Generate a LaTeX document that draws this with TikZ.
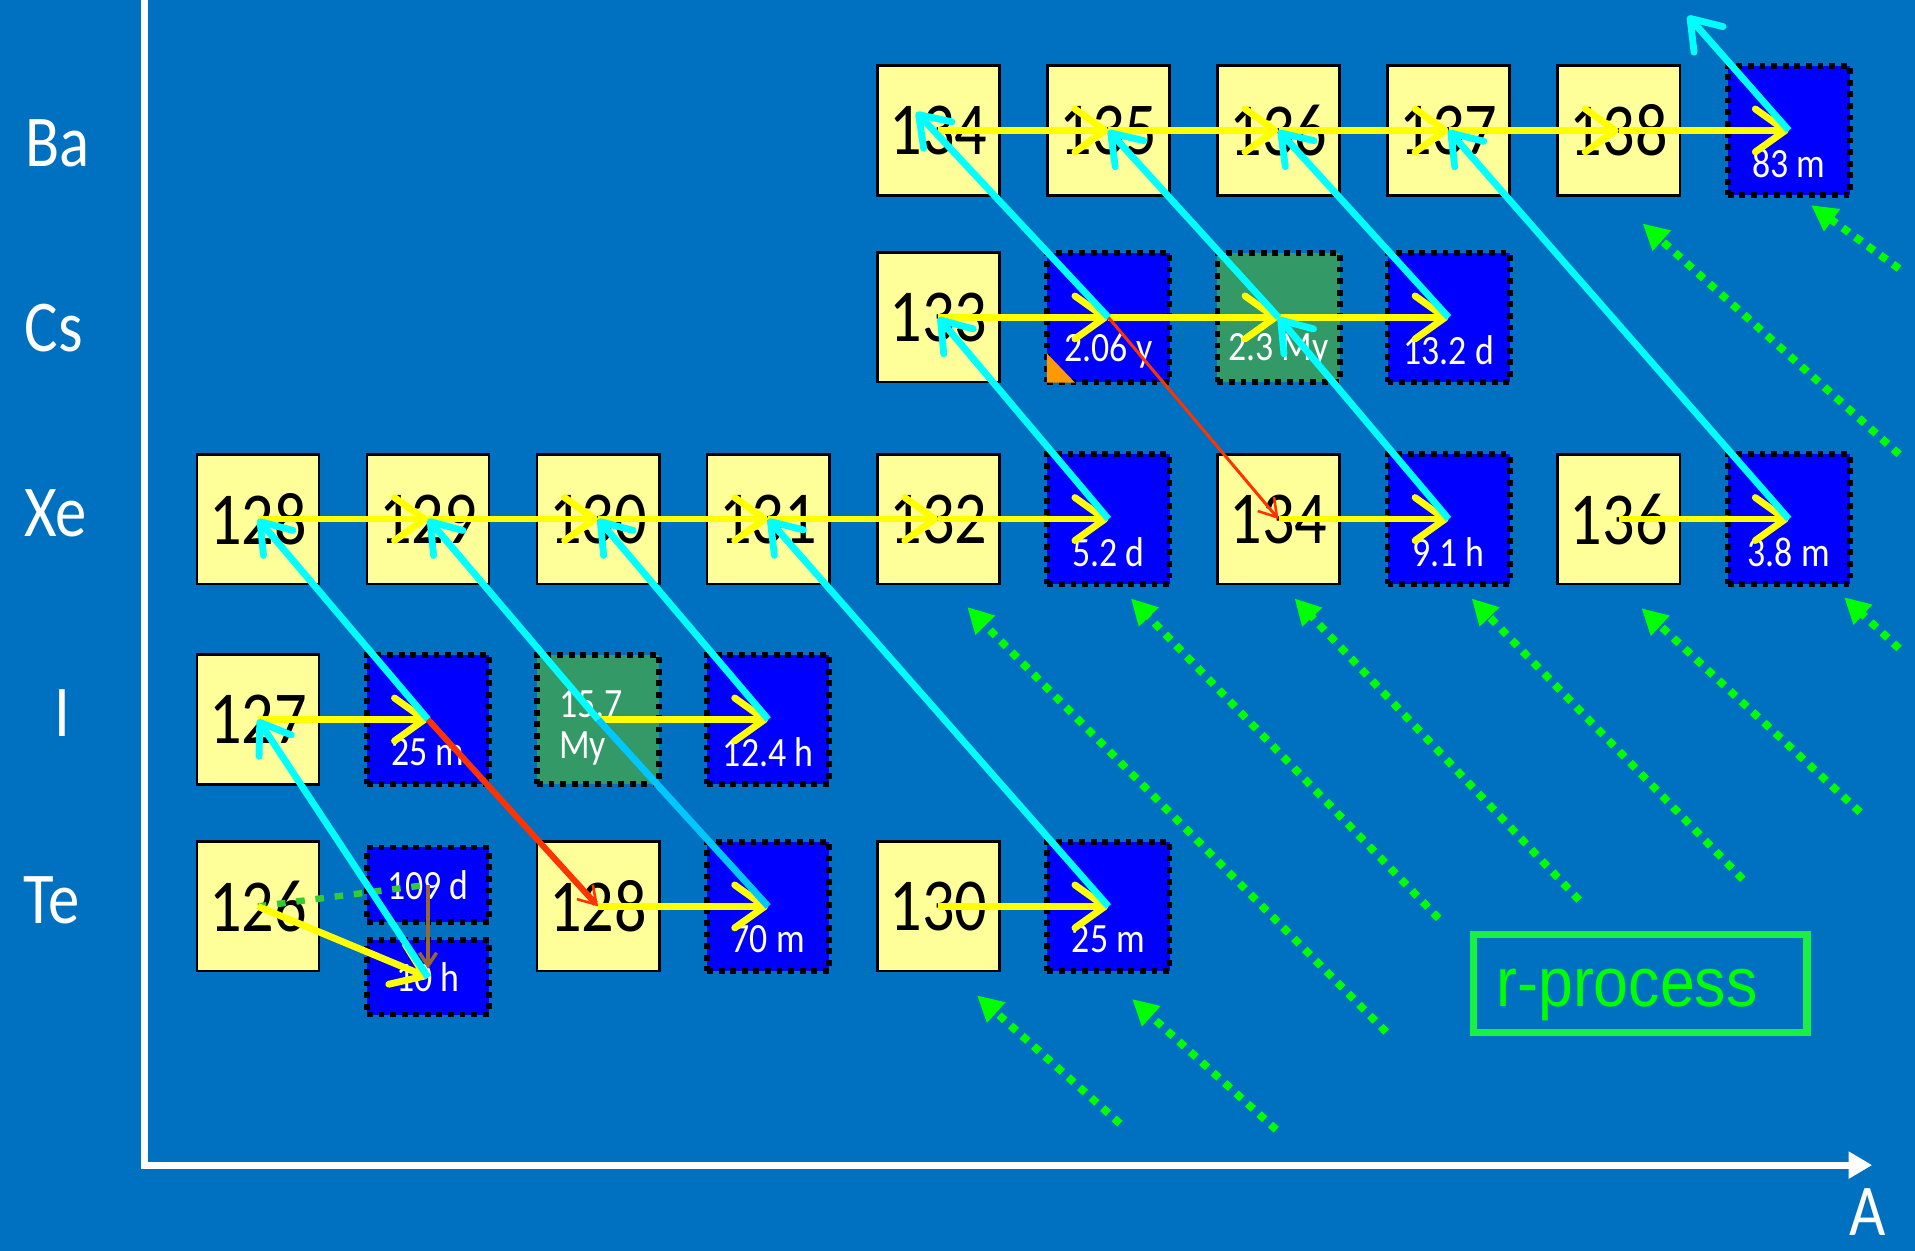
\documentclass[tikz,border=0pt]{standalone}
\usepackage{fontspec}
\setmainfont{Carlito}[FakeStretch=0.86]
\newfontfamily\arialfont{Liberation Sans}[FakeStretch=0.9]
\usetikzlibrary{arrows.meta, positioning}

\definecolor{slideBlue}{HTML}{0070C0}
\definecolor{stableYellow}{HTML}{FFFF99}
\definecolor{nucBlue}{HTML}{0000FF}
\definecolor{nucGreen}{HTML}{339966}
\definecolor{capYellow}{HTML}{FFFF00}
\definecolor{decayCyan}{HTML}{00FFFF}
\definecolor{decaySky}{HTML}{00C8FF}
\definecolor{ecRed}{HTML}{FF3300}
\definecolor{itBrown}{HTML}{996633}
\definecolor{feedGreen}{HTML}{33CC33}
\definecolor{rGreen}{HTML}{00FF00}
\definecolor{rBox}{HTML}{1AF044}
\definecolor{cornerOrange}{HTML}{FF9900}

\begin{document}
\begin{tikzpicture}[x=0.01cm, y=-0.01cm ,
box/.style={rectangle, minimum width=1cm, minimum height=1.06cm, inner sep=0pt} ,
stable/.style={box, fill=stableYellow, draw=black, line width=0.6pt, font=\fontsize{17.4}{20}\selectfont} ,
dotbox/.style={box, draw=black, line width=1.35pt, dash pattern=on 1.35pt off 1.35pt} ,
halflife/.style={text=white, inner sep=0pt, font=\fontsize{9.7}{9.4}\selectfont} ,
unstable/.style={dotbox, fill=nucBlue, label={[halflife, yshift=-0.27cm]center:#1}} ,
longlived/.style={dotbox, fill=nucGreen, label={[halflife, yshift=-0.27cm]center:#1}} ,
isomer/.style={dotbox, fill=nucBlue, minimum height=0.61cm, label={[halflife]center:#1}} ,
element/.style={text=white, anchor=base, inner sep=0pt, font=\fontsize{17}{20}\selectfont} ,
axis/.style={draw=white, line width=1.6pt, -{Triangle[length=5.5pt, width=6pt]}} ,
capture/.style={draw=capYellow, line width=1.6pt, -{Straight Barb[length=7pt, width=10pt, round]}} ,
decay/.style={draw=decayCyan, line width=1.6pt, -{Straight Barb[length=6.5pt, width=9pt, round]}} ,
ec/.style={draw=ecRed, line width=0.7pt, -{Straight Barb[length=4pt, width=5pt, line width=0.6pt]}} ,
itrans/.style={draw=itBrown, line width=0.8pt, -{Straight Barb[length=3pt, width=4pt]}} ,
feed/.style={draw=feedGreen, line width=1.5pt, dash pattern=on 2pt off 2.5pt} ,
rflow/.style={draw=rGreen, line width=1.8pt, dash pattern=on 1.8pt off 1.8pt, -{Triangle[length=6pt, width=6pt]}}
]
\useasboundingbox (0,0) rectangle (1568,1024) ;
\fill [slideBlue] (0,0) rectangle (1568,1024) ;

\coordinate (r1) at (917,920) ; \coordinate (r1tip) at (800,815) ;
\coordinate (r2) at (1045,925) ; \coordinate (r2tip) at (927,818) ;
\coordinate (r3) at (1135,845) ; \coordinate (r3tip) at (792,497) ;
\coordinate (r4) at (1178,752) ; \coordinate (r4tip) at (926,490) ;
\coordinate (r5) at (1293,737) ; \coordinate (r5tip) at (1060,490) ;
\coordinate (r6) at (1427,720) ; \coordinate (r6tip) at (1205,490) ;
\coordinate (r7) at (1523,665) ; \coordinate (r7tip) at (1344,498) ;
\coordinate (r8) at (1555,531) ; \coordinate (r8tip) at (1510,489) ;
\coordinate (r9) at (1555,372) ; \coordinate (r9tip) at (1345,183) ;
\coordinate (r10) at (1555,220) ; \coordinate (r10tip) at (1483,168) ;
\draw [rflow] (r1) -- (r1tip) ;
\draw [rflow] (r2) -- (r2tip) ;
\draw [rflow] (r3) -- (r3tip) ;
\draw [rflow] (r4) -- (r4tip) ;
\draw [rflow] (r5) -- (r5tip) ;
\draw [rflow] (r6) -- (r6tip) ;
\draw [rflow] (r7) -- (r7tip) ;
\draw [rflow] (r8) -- (r8tip) ;
\draw [rflow] (r9) -- (r9tip) ;
\draw [rflow] (r10) -- (r10tip) ;

\coordinate (ytop) at (118,0) ;
\coordinate (origin) at (118,954) ;
\coordinate (xend) at (1533,954) ;
\draw [axis] (ytop) -- (origin) -- (xend) ;

\node (Ba) at (47,136.5) [element] {Ba} ;
\node (Cs) at (44,288) [element] {Cs} ;
\node (Xe) at (45.5,439.5) [element] {Xe} ;
\node (I) at (51,603) [element] {I} ;
\node (Te) at (42,756) [element] {Te} ;
\node (Alabel) at (1529.5,1012) [element] {A} ;

\matrix (chart) at (838.6,424.5) [column sep={1.392cm,between origins}, row sep={1.53cm,between origins}] {
    & & & & \node (Ba134) [stable] {134} ; & \node (Ba135) [stable] {135} ; & \node (Ba136) [stable] {136} ; & \node (Ba137) [stable] {137} ; & \node (Ba138) [stable] {138} ; & \node (Ba139) [unstable=83 m] {} ; \\
    & & & & \node (Cs133) [stable] {133} ; & \node (Cs134) [unstable=2.06 y] {} ; & \node (Cs135) [longlived=2.3 My] {} ; & \node (Cs136) [unstable=13.2 d] {} ; \\[0.12cm]
    \node (Xe128) [stable] {128} ; & \node (Xe129) [stable] {129} ; & \node (Xe130) [stable] {130} ; & \node (Xe131) [stable] {131} ; & \node (Xe132) [stable] {132} ; & \node (Xe133) [unstable=5.2 d] {} ; & \node (Xe134) [stable] {134} ; & \node (Xe135) [unstable=9.1 h] {} ; & \node (Xe136) [stable] {136} ; & \node (Xe137) [unstable=3.8 m] {} ; \\[0.11cm]
    \node (I127) [stable] {127} ; & \node (I128) [unstable=25 m] {} ; & \node (I129) [dotbox, fill=nucGreen] {} ; & \node (I130) [unstable=12.4 h] {} ; \\
    \node (Te126) [stable] {126} ; & & \node (Te128) [stable] {128} ; & \node (Te129) [unstable=70 m] {} ; & \node (Te130) [stable] {130} ; & \node (Te131) [unstable=25 m] {} ; \\
} ;

\node (Te127m) [isomer=109 d, below=0.47cm of I128] {} ;
\node (Te127) [isomer=10 h, below=0.1cm of Te127m] {} ;
\node (I129hl) at ([shift={(-6,7)}]I129.center) [halflife, align=left] {15.7\\My} ;
\fill [cornerOrange] ([shift={(2,-2)}]Cs134.south west) -- ([shift={(2,-26)}]Cs134.south west) -- ([shift={(25,-2)}]Cs134.south west) -- cycle ;

\node (rproc) at (1343,805.3) [draw=rBox, line width=1.7pt, minimum width=2.73cm, minimum height=0.8cm, inner sep=0pt, text width=2.35cm, align=left, text height=0.5cm, text depth=0.12cm, text=rGreen, font=\arialfont\fontsize{16.2}{19}\selectfont] {r-process} ;

\draw [feed] (Te126.center) -- (Te127m.center) ;
\draw [itrans, shorten >=0.07cm] (Te127m.center) -- (Te127.center) ;

\draw [capture] (Ba134.center) -- (Ba135.center) ;
\draw [capture] (Ba135.center) -- (Ba136.center) ;
\draw [capture] (Ba136.center) -- (Ba137.center) ;
\draw [capture] (Ba137.center) -- (Ba138.center) ;
\draw [capture] (Ba138.center) -- (Ba139.center) ;
\draw [capture] (Cs133.center) -- (Cs134.center) ;
\draw [capture] (Cs134.center) -- (Cs135.center) ;
\draw [capture] (Cs135.center) -- (Cs136.center) ;
\draw [capture] (Xe128.center) -- (Xe129.center) ;
\draw [capture] (Xe129.center) -- (Xe130.center) ;
\draw [capture] (Xe130.center) -- (Xe131.center) ;
\draw [capture] (Xe131.center) -- (Xe132.center) ;
\draw [capture] (Xe132.center) -- (Xe133.center) ;
\draw [capture] (Xe134.center) -- (Xe135.center) ;
\draw [capture] (Xe136.center) -- (Xe137.center) ;
\draw [capture] (I127.center) -- (I128.center) ;
\draw [capture] (I129.center) -- (I130.center) ;
\draw [capture] (Te126.center) -- (Te127.center) ;
\draw [capture] (Te128.center) -- (Te129.center) ;
\draw [capture] (Te130.center) -- (Te131.center) ;

\coordinate (Ba134tip) at ([shift={(-18,-15)}]Ba134.center) ;
\coordinate (La139) at (1382,13) ;
\draw [decay] (I128.center) -- (Xe128.center) ;
\draw [decay] (Te127.center) -- (I127.center) ;
\draw [decay, draw=decaySky, -] (Te129.center) -- (I129.center) ;
\draw [decay] (I129.center) -- (Xe129.center) ;
\draw [decay] (I130.center) -- (Xe130.center) ;
\draw [decay] (Te131.center) -- (Xe131.center) ;
\draw [decay] (Xe133.center) -- (Cs133.center) ;
\draw [decay] (Cs134.center) -- (Ba134tip) ;
\draw [decay] (Xe135.center) -- (Cs135.center) ;
\draw [decay] (Cs135.center) -- (Ba135.center) ;
\draw [decay] (Cs136.center) -- (Ba136.center) ;
\draw [decay] (Xe137.center) -- (Ba137.center) ;
\draw [decay] (Ba139.center) -- (La139) ;

\draw [ec, line width=1.4pt] (I128.center) -- (Te128.center) ;
\draw [ec] (Cs134.center) -- (Xe134.center) ;
\end{tikzpicture}
\end{document}
